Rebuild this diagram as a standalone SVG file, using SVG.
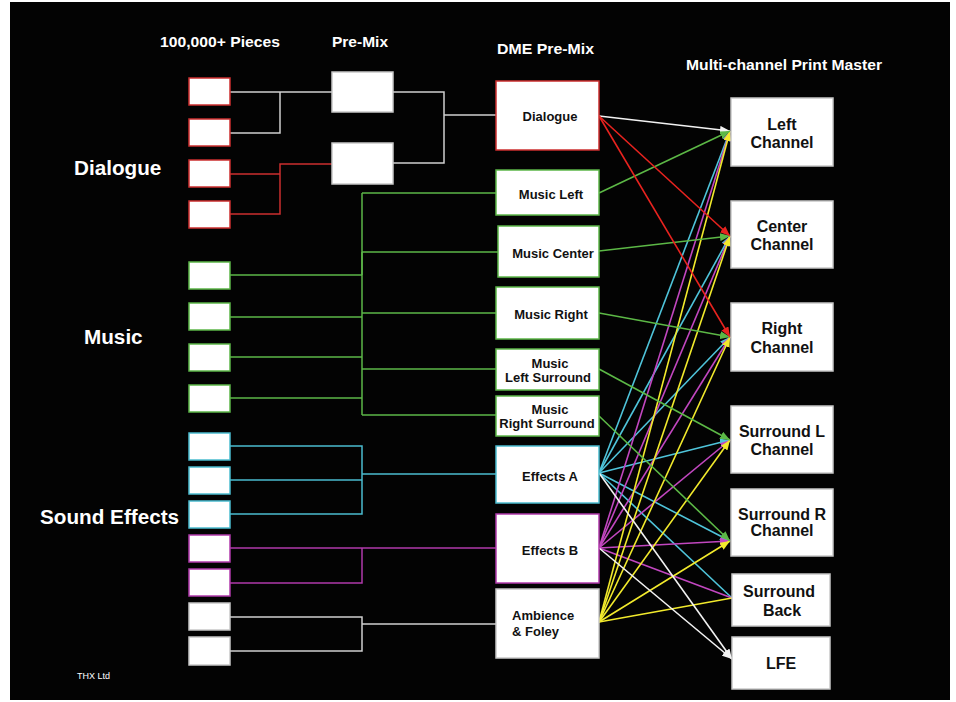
<svg xmlns="http://www.w3.org/2000/svg" width="956" height="702" viewBox="0 0 956 702">
<style>
.hdr{font-family:"Liberation Sans",Arial,sans-serif;font-weight:bold;font-size:15px;fill:#fff}
.big{font-family:"Liberation Sans",Arial,sans-serif;font-weight:bold;font-size:20.7px;fill:#fff}
.dme{font-family:"Liberation Sans",Arial,sans-serif;font-weight:bold;font-size:13px;fill:#111;text-anchor:middle}
.out{font-family:"Liberation Sans",Arial,sans-serif;font-weight:bold;font-size:16px;fill:#111;text-anchor:middle}
.src rect,.node rect{fill:#fff;stroke-width:1.5}
.r{stroke:#cc2f2f}.g{stroke:#5cb648}.c{stroke:#4bbccf}.m{stroke:#b03aab}.w{stroke:#c8c8c8}
.ln{fill:none;stroke-width:1.5}
.f{fill:none;stroke-width:1.6}
.fr{stroke:#e8231f}.fg{stroke:#5cb846}.fc{stroke:#4fc4da}.fm{stroke:#c247c0}.fy{stroke:#f2ea2c}.fw{stroke:#f2f2f2}
.wl{stroke:#d0d0d0}
</style>
<defs>
<marker id="ar" viewBox="0 0 10 8" refX="10" refY="4" markerWidth="10" markerHeight="8" markerUnits="userSpaceOnUse" orient="auto"><path d="M0,0L10,4L0,8z" fill="#e8231f"/></marker>
<marker id="ag" viewBox="0 0 10 8" refX="10" refY="4" markerWidth="10" markerHeight="8" markerUnits="userSpaceOnUse" orient="auto"><path d="M0,0L10,4L0,8z" fill="#5cb846"/></marker>
<marker id="ac" viewBox="0 0 10 8" refX="10" refY="4" markerWidth="10" markerHeight="8" markerUnits="userSpaceOnUse" orient="auto"><path d="M0,0L10,4L0,8z" fill="#4fc4da"/></marker>
<marker id="am" viewBox="0 0 10 8" refX="10" refY="4" markerWidth="10" markerHeight="8" markerUnits="userSpaceOnUse" orient="auto"><path d="M0,0L10,4L0,8z" fill="#c247c0"/></marker>
<marker id="ay" viewBox="0 0 10 8" refX="10" refY="4" markerWidth="10" markerHeight="8" markerUnits="userSpaceOnUse" orient="auto"><path d="M0,0L10,4L0,8z" fill="#f2ea2c"/></marker>
<marker id="aw" viewBox="0 0 10 8" refX="10" refY="4" markerWidth="10" markerHeight="8" markerUnits="userSpaceOnUse" orient="auto"><path d="M0,0L10,4L0,8z" fill="#f2f2f2"/></marker>
</defs>
<rect x="0" y="0" width="956" height="702" fill="#fff"/>
<rect x="10" y="2" width="940" height="698" fill="#030303"/>

<g id="headers">
<text class="hdr" x="160" y="47" textLength="120" lengthAdjust="spacingAndGlyphs">100,000+ Pieces</text>
<text class="hdr" x="332" y="47" textLength="56" lengthAdjust="spacingAndGlyphs">Pre-Mix</text>
<text class="hdr" x="497" y="54" textLength="97" lengthAdjust="spacingAndGlyphs">DME Pre-Mix</text>
<text class="hdr" x="686" y="70" textLength="196" lengthAdjust="spacingAndGlyphs">Multi-channel Print Master</text>
<text class="big" x="74" y="175">Dialogue</text>
<text class="big" x="84" y="344">Music</text>
<text class="big" x="40" y="524">Sound Effects</text>
<text x="77" y="679" font-family="Liberation Sans,Arial,sans-serif" font-size="9" fill="#fff">THX Ltd</text>
</g>

<g id="connectors">
<path class="ln wl" d="M230,92H332M230,133H280V92M393,92H444V163H393M444,115H496"/>
<path class="ln r" d="M230,174H280M230,214H280V164H332"/>
<path class="ln g" d="M230,275H362M230,317H362M230,357H362M230,398H362M362,193V415M362,193H496M362,252H498M362,313H496M362,369H496M362,415H496"/>
<path class="ln g" stroke-width="2.5" d="M362,252V275"/>
<path class="ln c" d="M230,446H362V514H230M230,480H362M362,474H496"/>
<path class="ln m" d="M230,548H496M230,583H362V548"/>
<path class="ln wl" d="M230,617H362V651H230M362,624H496"/>

<g class="f fc">
<path d="M599,473L730,131" marker-end="url(#ac)"/>
<path d="M599,473L730,236" marker-end="url(#ac)"/>
<path d="M599,473L730,337" marker-end="url(#ac)"/>
<path d="M599,473L730,440" marker-end="url(#ac)"/>
<path d="M599,473L730,541" marker-end="url(#ac)"/>
<path d="M599,473L732,598"/>
</g>
<g class="f fm">
<path d="M599,548L730,131" marker-end="url(#am)"/>
<path d="M599,548L730,236" marker-end="url(#am)"/>
<path d="M599,548L730,337" marker-end="url(#am)"/>
<path d="M599,548L730,440" marker-end="url(#am)"/>
<path d="M599,548L730,541" marker-end="url(#am)"/>
<path d="M599,548L732,598"/>
</g>
<g class="f fy">
<path d="M599,622L730,131" marker-end="url(#ay)"/>
<path d="M599,622L730,236" marker-end="url(#ay)"/>
<path d="M599,622L730,337" marker-end="url(#ay)"/>
<path d="M599,622L730,440" marker-end="url(#ay)"/>
<path d="M599,622L730,541" marker-end="url(#ay)"/>
<path d="M599,622L732,598"/>
</g>
<g class="f fw">
<path d="M599,473L732,659" marker-end="url(#aw)"/>
<path d="M599,548L732,659" marker-end="url(#aw)"/>
<path d="M599,116L730,131" marker-end="url(#aw)"/>
</g>
<g class="f fg">
<path d="M599,193L730,131" marker-end="url(#ag)"/>
<path d="M599,251L730,236" marker-end="url(#ag)"/>
<path d="M599,313L730,337" marker-end="url(#ag)"/>
<path d="M599,369L730,440" marker-end="url(#ag)"/>
<path d="M599,416L730,541" marker-end="url(#ag)"/>
</g>
<g class="f fr">
<path d="M599,116L730,236" marker-end="url(#ar)"/>
<path d="M599,116L730,337" marker-end="url(#ar)"/>
</g>
</g>

<g id="piece-d1" class="src"><rect class="r" x="189" y="78" width="41" height="27"/></g>
<g id="piece-d2" class="src"><rect class="r" x="189" y="119" width="41" height="27"/></g>
<g id="piece-d3" class="src"><rect class="r" x="189" y="160" width="41" height="27"/></g>
<g id="piece-d4" class="src"><rect class="r" x="189" y="201" width="41" height="27"/></g>
<g id="piece-m1" class="src"><rect class="g" x="189" y="262" width="41" height="27"/></g>
<g id="piece-m2" class="src"><rect class="g" x="189" y="303" width="41" height="27"/></g>
<g id="piece-m3" class="src"><rect class="g" x="189" y="344" width="41" height="27"/></g>
<g id="piece-m4" class="src"><rect class="g" x="189" y="385" width="41" height="27"/></g>
<g id="piece-e1" class="src"><rect class="c" x="189" y="433" width="41" height="27"/></g>
<g id="piece-e2" class="src"><rect class="c" x="189" y="467" width="41" height="27"/></g>
<g id="piece-e3" class="src"><rect class="c" x="189" y="501" width="41" height="27"/></g>
<g id="piece-e4" class="src"><rect class="m" x="189" y="535" width="41" height="27"/></g>
<g id="piece-e5" class="src"><rect class="m" x="189" y="569" width="41" height="27"/></g>
<g id="piece-e6" class="src"><rect class="w" x="189" y="603" width="41" height="27"/></g>
<g id="piece-e7" class="src"><rect class="w" x="189" y="637" width="41" height="28"/></g>

<g id="premix-1" class="src"><rect class="w" x="332" y="72" width="61" height="40"/></g>
<g id="premix-2" class="src"><rect class="w" x="332" y="143" width="61" height="41"/></g>

<g id="dme-dialogue" class="node"><rect class="r" x="496" y="81" width="103" height="69"/><text class="dme" x="550" y="121">Dialogue</text></g>
<g id="dme-music-left" class="node"><rect class="g" x="496" y="170" width="103" height="45"/><text class="dme" x="551" y="199">Music Left</text></g>
<g id="dme-music-center" class="node"><rect class="g" x="498" y="226" width="101" height="51"/><text class="dme" x="553" y="258">Music Center</text></g>
<g id="dme-music-right" class="node"><rect class="g" x="496" y="287" width="103" height="52"/><text class="dme" x="551" y="319">Music Right</text></g>
<g id="dme-music-ls" class="node"><rect class="g" x="496" y="349" width="103" height="41"/><text class="dme" x="550" y="368">Music</text><text class="dme" x="548" y="382">Left Surround</text></g>
<g id="dme-music-rs" class="node"><rect class="g" x="496" y="396" width="103" height="40"/><text class="dme" x="550" y="414">Music</text><text class="dme" x="547" y="428">Right Surround</text></g>
<g id="dme-effects-a" class="node"><rect class="c" x="496" y="446" width="103" height="57"/><text class="dme" x="550" y="481">Effects A</text></g>
<g id="dme-effects-b" class="node"><rect class="m" x="496" y="514" width="103" height="69"/><text class="dme" x="550" y="555">Effects B</text></g>
<g id="dme-ambience" class="node"><rect class="w" x="496" y="589" width="103" height="69"/><text class="dme" x="512" y="620" style="text-anchor:start">Ambience</text><text class="dme" x="512" y="636" style="text-anchor:start">&amp; Foley</text></g>

<g id="out-left" class="node"><rect class="w" x="731" y="98" width="102" height="68"/><text class="out" x="782" y="130">Left</text><text class="out" x="782" y="148">Channel</text></g>
<g id="out-center" class="node"><rect class="w" x="731" y="201" width="102" height="67"/><text class="out" x="782" y="232">Center</text><text class="out" x="782" y="250">Channel</text></g>
<g id="out-right" class="node"><rect class="w" x="731" y="303" width="102" height="68"/><text class="out" x="782" y="334">Right</text><text class="out" x="782" y="353">Channel</text></g>
<g id="out-sl" class="node"><rect class="w" x="731" y="406" width="102" height="67"/><text class="out" x="782" y="437">Surround L</text><text class="out" x="782" y="455">Channel</text></g>
<g id="out-sr" class="node"><rect class="w" x="731" y="489" width="102" height="67"/><text class="out" x="782" y="520">Surround R</text><text class="out" x="782" y="536">Channel</text></g>
<g id="out-sb" class="node"><rect class="w" x="732" y="574" width="98" height="52"/><text class="out" x="779" y="597">Surround</text><text class="out" x="782" y="616">Back</text></g>
<g id="out-lfe" class="node"><rect class="w" x="732" y="637" width="98" height="52"/><text class="out" x="781" y="669">LFE</text></g>
</svg>
